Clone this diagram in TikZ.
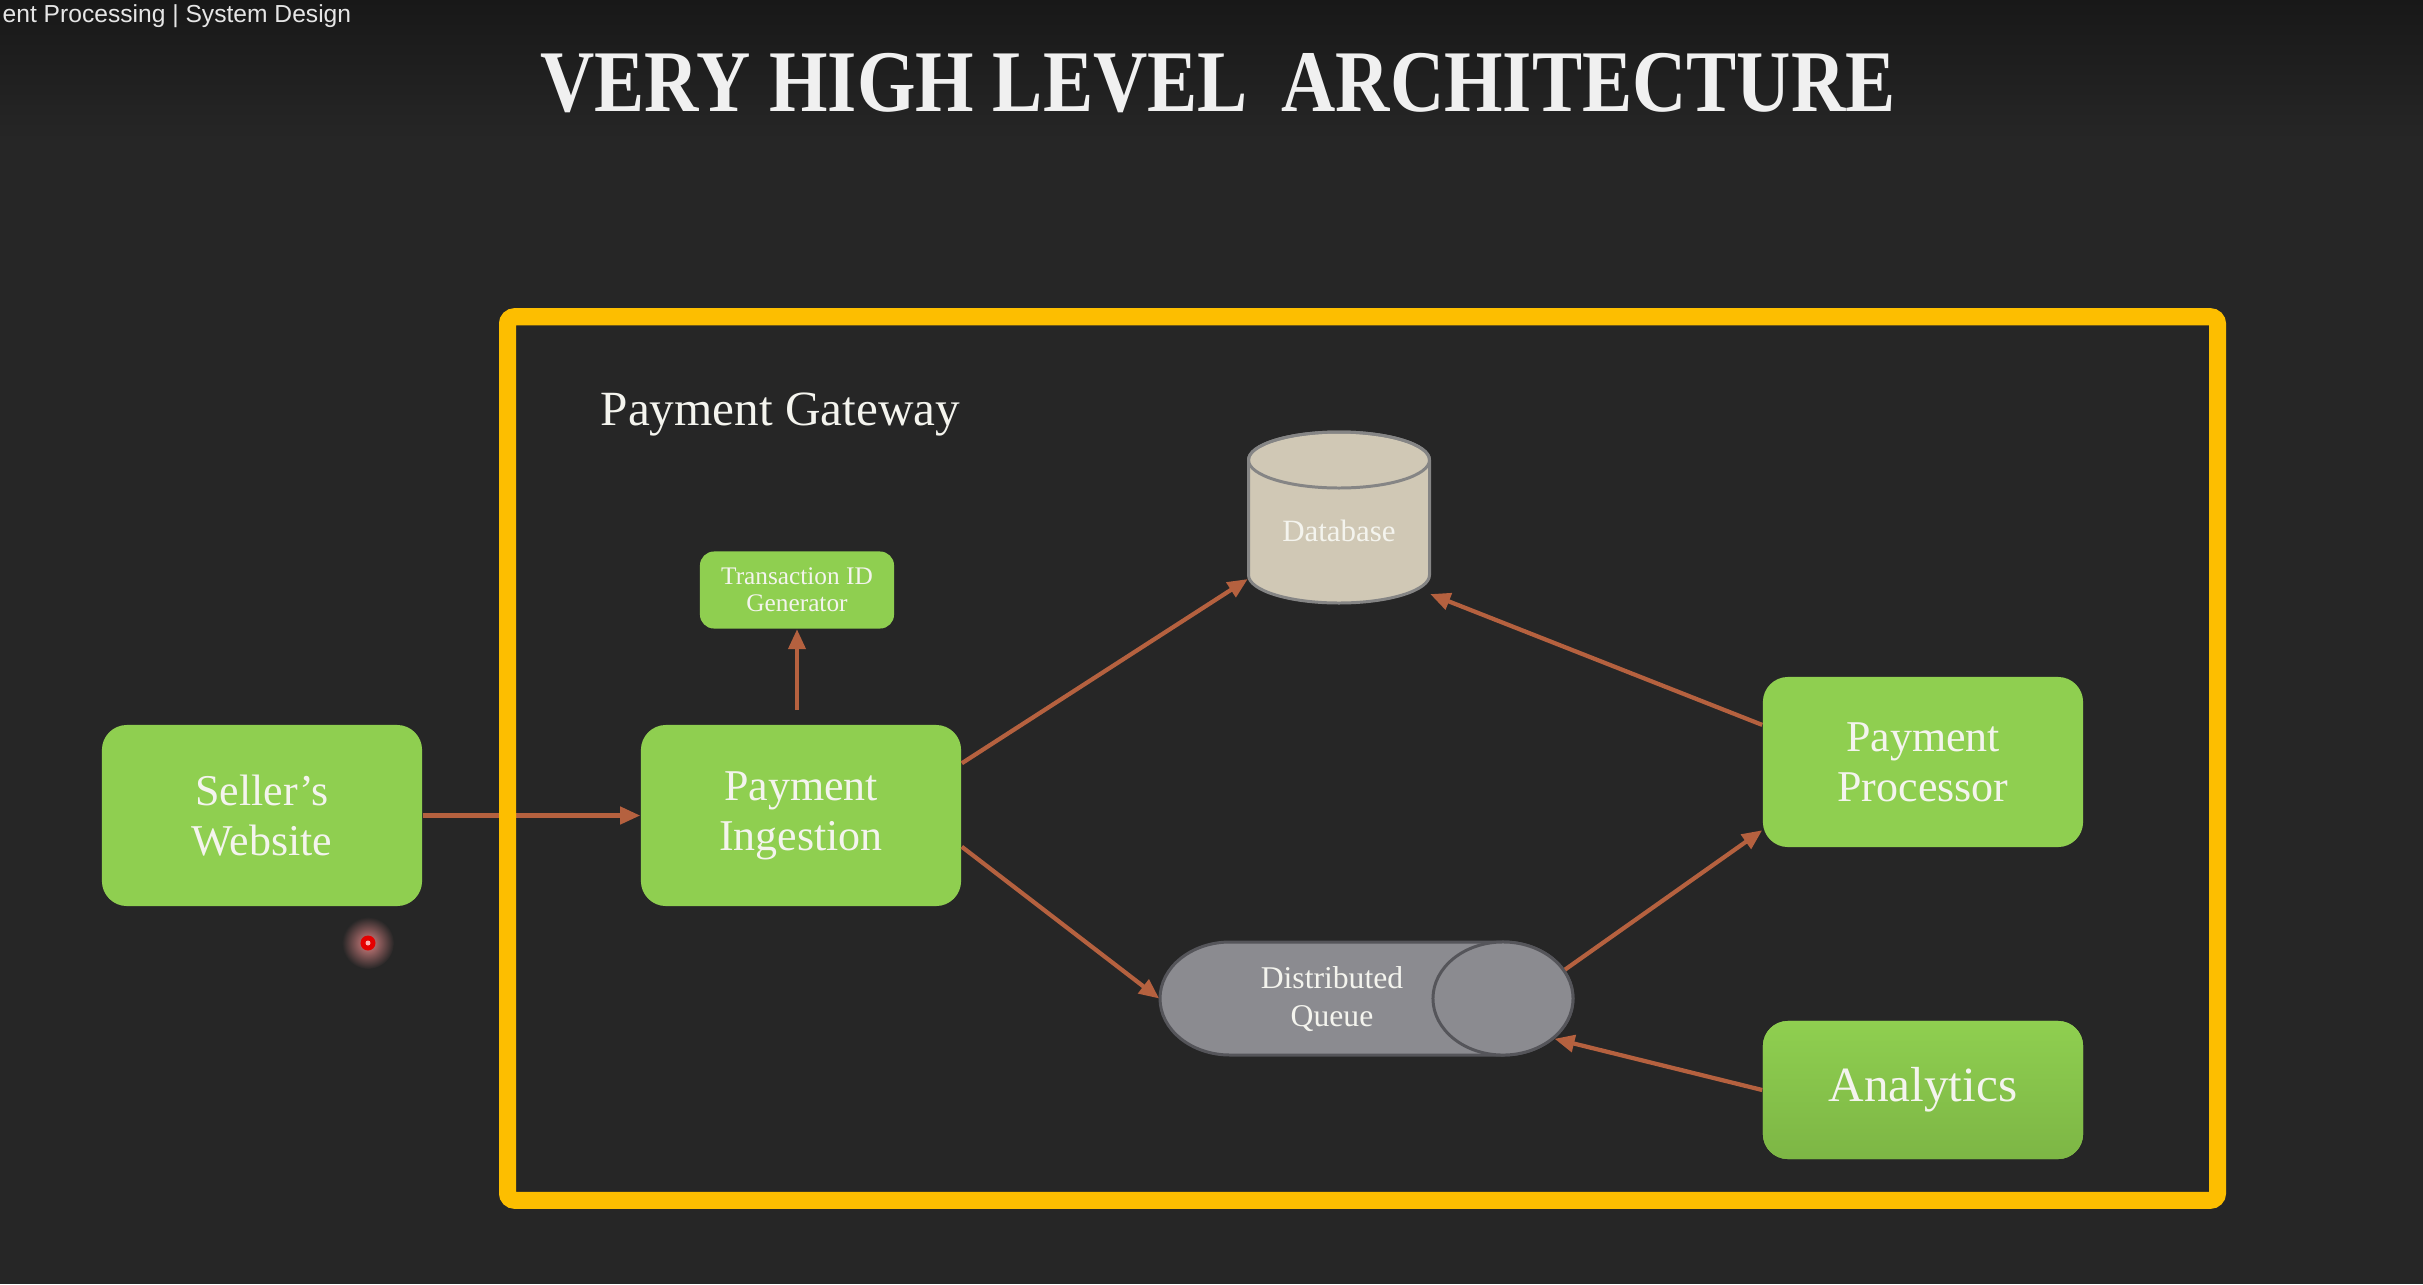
\documentclass[tikz,border=0pt]{standalone}
\usepackage{fontspec}
\setmainfont{Liberation Serif}
\newfontfamily\ytfont{Liberation Sans}
\usetikzlibrary{arrows.meta,shapes.geometric}
\definecolor{bgc}{HTML}{262626}
\definecolor{bgtop}{HTML}{181818}
\definecolor{grn}{HTML}{8FCF50}
\definecolor{grnd}{HTML}{7DB645}
\definecolor{txtc}{HTML}{F4F4EE}
\definecolor{gold}{HTML}{FDBE00}
\definecolor{arrc}{HTML}{B5613F}
\definecolor{dbc}{HTML}{D0C8B5}
\definecolor{dbe}{HTML}{858585}
\definecolor{qc}{HTML}{8B8B90}
\definecolor{qe}{HTML}{55555A}
\definecolor{titc}{HTML}{F0F0F0}
\definecolor{ytc}{HTML}{E6E6E6}
\begin{document}
\begin{tikzpicture}[x=0.01cm,y=-0.01cm,
  gbox/.style={fill=grn, rounded corners=0.25cm, minimum width=3.2cm, minimum height=1.81cm,
    align=center, text=txtc, font=\fontsize{12.5}{14.2}\selectfont, inner sep=0pt},
  conn/.style={draw=arrc, line width=1.2pt, -{Triangle[length=0.2cm,width=0.17cm]}},
  plain/.style={inner sep=0pt, text=txtc, align=center}]
\useasboundingbox (0,0) rectangle (2423,1284);
\fill[bgc] (0,0) rectangle (2423,1284);
\shade[top color=bgtop, bottom color=bgc] (0,0) rectangle (2423,140);

% overlay title
\node[anchor=base west, font=\ytfont\fontsize{7}{8}\selectfont, text=ytc, inner sep=0pt] (yt) at (2,22) {ent Processing | System Design};

% title
\node[font=\bfseries\fontsize{25}{28}\selectfont, text=titc, inner sep=0pt] (title) at (1218,83)
  {\scalebox{0.855}[1]{VERY HIGH LEVEL\hspace{0.45em}ARCHITECTURE}};

% label
\node[anchor=base west, font=\fontsize{14}{16}\selectfont, plain] (pg) at (600,425) {Payment Gateway};

% green boxes
\node[gbox] (sw) at (262,815.5) {Seller’s\\Website};
\node[gbox] (pi) at (801,815.5) {Payment\\Ingestion};
\node[gbox, minimum width=1.94cm, minimum height=0.77cm, rounded corners=0.14cm,
  font=\fontsize{7.2}{7.6}\selectfont] (tx) at (797,590) {Transaction ID\\Generator};
\node[gbox, minimum height=1.7cm] (pp) at (1923,762) {Payment\\Processor};
\node[gbox, minimum height=1.38cm, top color=grn, bottom color=grnd,
  font=\fontsize{14}{16}\selectfont] (an) at (1923,1090) {Analytics};

% database
\node[minimum width=1.81cm, minimum height=1.71cm, inner sep=0pt] (db) at (1339,517.5) {};
\filldraw[fill=dbc, draw=dbe, line width=0.85pt] (1248.5,460) -- (1248.5,575)
  arc[start angle=180, end angle=0, x radius=90.5, y radius=28] -- (1429.5,460)
  arc[start angle=0, end angle=-180, x radius=90.5, y radius=28] -- cycle;
\draw[dbe, line width=0.85pt] (1339,460) ellipse[x radius=90.5, y radius=28];
\node[font=\fontsize{8.8}{10}\selectfont, plain] (dbt) at (1339,531) {Database};

% queue
\node[minimum width=4.13cm, minimum height=1.13cm, inner sep=0pt] (q) at (1366.5,998.5) {};
\filldraw[fill=qc, draw=qe, line width=0.85pt] (1230,942) -- (1503,942)
  arc[start angle=-90, end angle=90, x radius=70, y radius=56.5] -- (1230,1055)
  arc[start angle=90, end angle=270, x radius=70, y radius=56.5] -- cycle;
\node[ellipse, draw=qe, fill=qc, line width=0.85pt, minimum width=1.4cm, minimum height=1.13cm,
  inner sep=0pt] (qcap) at (1503,998.5) {};
\node[font=\fontsize{9}{10.8}\selectfont, plain] (qt) at (1332,999) {Distributed\\Queue};

% connectors
\draw[conn] (sw.east) -- (pi.west);
\draw[conn, shorten <=0.14cm] (tx.south |- pi.north) -- (tx.south);
\draw[conn] (pi.18.5) -- (db.214);
\draw[conn] (pp.167) -- (db.-40);
\draw[conn] (pi.-11.1) -- (q.west);
\draw[conn] (qcap.25) -- (pp.203);
\draw[conn] (an.180.4) -- (qcap.-38.3);

% frame (on top of connector)
\node[draw=gold, line width=0.17cm, minimum width=17.09cm, minimum height=8.83cm, inner sep=0pt,
  rounded corners=2pt] (frame) at (1362.5,758.5) {};

% laser pointer
\shade[inner color={rgb,255:red,215;green,130;blue,130}, outer color=bgc] (368,943) circle (0.26cm);
\fill[red!90!black] (368,943) circle (0.075cm);
\fill[red!30!white] (368,943) circle (0.025cm);
\end{tikzpicture}
\end{document}
